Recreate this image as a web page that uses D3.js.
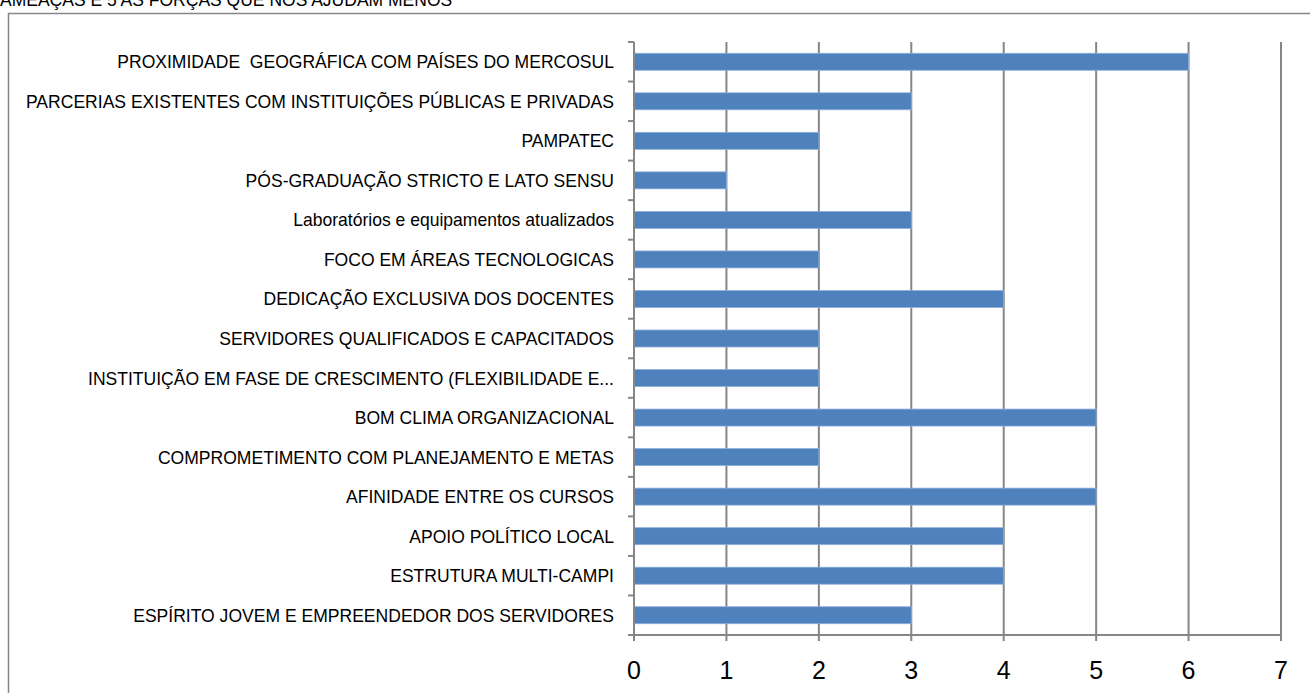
<!DOCTYPE html>
<html>
<head>
<meta charset="utf-8">
<script src="https://cdn.jsdelivr.net/npm/d3@7"></script>
<style>
  body { margin: 0; background: #fff; }
  svg { display: block; }
</style>
</head>
<body>
<script>
// categorias de cima para baixo
var categories = [
  "PROXIMIDADE  GEOGRÁFICA COM PAÍSES DO MERCOSUL",
  "PARCERIAS EXISTENTES COM INSTITUIÇÕES PÚBLICAS E PRIVADAS",
  "PAMPATEC",
  "PÓS-GRADUAÇÃO STRICTO E LATO SENSU",
  "Laboratórios e equipamentos atualizados",
  "FOCO EM ÁREAS TECNOLOGICAS",
  "DEDICAÇÃO EXCLUSIVA DOS DOCENTES",
  "SERVIDORES QUALIFICADOS E CAPACITADOS",
  "INSTITUIÇÃO EM FASE DE CRESCIMENTO (FLEXIBILIDADE E...",
  "BOM CLIMA ORGANIZACIONAL",
  "COMPROMETIMENTO COM PLANEJAMENTO E METAS",
  "AFINIDADE ENTRE OS CURSOS",
  "APOIO POLÍTICO LOCAL",
  "ESTRUTURA MULTI-CAMPI",
  "ESPÍRITO JOVEM E EMPREENDEDOR DOS SERVIDORES"
];
var values = [6, 3, 2, 1, 3, 2, 4, 2, 2, 5, 2, 5, 4, 4, 3];
var xTicks = [0, 1, 2, 3, 4, 5, 6, 7];
var title = "AMEAÇAS E 5 AS FORÇAS QUE NOS AJUDAM MENOS";

var sans = "'Liberation Sans', Arial, sans-serif";

const svg = d3.select("body").append("svg")
    .attr("width", 1310)
    .attr("height", 693);

// titulo cortado em cima
svg.append("text")
    .attr("x", 0).attr("y", 6)
    .style("font-family", sans)
    .style("font-size", "17.5px")
    .style("fill", "#000")
    .text(title);

// borda do grafico
svg.append("rect")
    .attr("x", 8.5).attr("y", 13.5)
    .attr("width", 1320).attr("height", 700)
    .style("fill", "none")
    .style("stroke", "#868686")
    .style("stroke-width", 1.5);

const xScale = d3.scaleLinear().domain([0, 7]).range([634, 1281]);
const yScale = d3.scaleBand().domain(categories).range([42, 635])
    .paddingInner(0.57).paddingOuter(0.285);

const plotTop = 42, plotBottom = 635;

// linhas de grade
svg.append("g").selectAll("line")
    .data(xTicks.slice(1))
    .enter().append("line")
    .attr("x1", d => xScale(d)).attr("x2", d => xScale(d))
    .attr("y1", plotTop).attr("y2", plotBottom + 6)
    .style("stroke", "#868686")
    .style("stroke-width", 2);

// barras
svg.append("g").selectAll("rect")
    .data(categories)
    .enter().append("rect")
    .attr("x", xScale(0))
    .attr("y", d => yScale(d))
    .attr("width", (d, i) => xScale(values[i]) - xScale(0))
    .attr("height", yScale.bandwidth())
    .style("fill", "#4F81BD")
    .style("stroke", "#8eb0dc")
    .style("stroke-width", 0.8);

// eixo vertical e marcas
svg.append("line")
    .attr("x1", xScale(0)).attr("x2", xScale(0))
    .attr("y1", plotTop).attr("y2", plotBottom + 6)
    .style("stroke", "#868686").style("stroke-width", 2);

var step = yScale.step();
var bounds = categories.map(d => yScale(d) - step * yScale.paddingInner() / 2);
bounds.push(plotBottom);
svg.append("g").selectAll("line")
    .data(bounds)
    .enter().append("line")
    .attr("x1", xScale(0) - 6).attr("x2", xScale(0))
    .attr("y1", d => d).attr("y2", d => d)
    .style("stroke", "#868686").style("stroke-width", 2);

// eixo horizontal
svg.append("line")
    .attr("x1", xScale(0) - 6).attr("x2", xScale(7))
    .attr("y1", plotBottom).attr("y2", plotBottom)
    .style("stroke", "#868686").style("stroke-width", 2);

// numeros do eixo x
svg.append("g").selectAll("text")
    .data(xTicks)
    .enter().append("text")
    .attr("x", d => xScale(d))
    .attr("y", 679)
    .attr("text-anchor", "middle")
    .style("font-family", sans)
    .style("font-size", "25px")
    .style("fill", "#000")
    .text(d => d);

// rotulos das categorias
svg.append("g").selectAll("text")
    .data(categories)
    .enter().append("text")
    .attr("transform", d => `translate(614, ${yScale(d) + yScale.bandwidth() / 2}) scale(0.975, 1)`)
    .attr("dy", "0.36em")
    .attr("text-anchor", "end")
    .style("white-space", "pre")
    .style("font-family", sans)
    .style("font-size", "18px")
    .style("fill", "#000")
    .text(d => d);
</script>
</body>
</html>
